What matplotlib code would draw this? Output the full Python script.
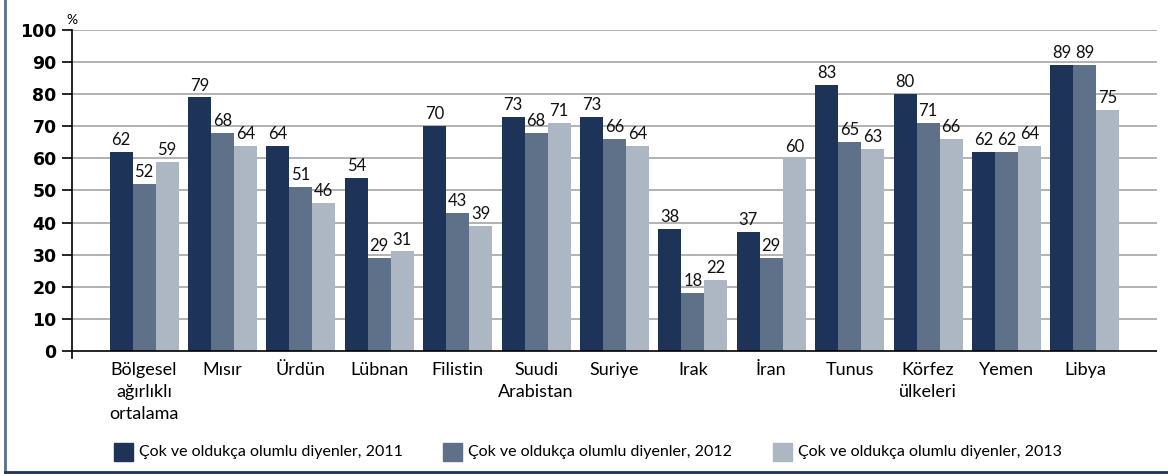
import matplotlib
matplotlib.use("Agg")
import matplotlib.pyplot as plt
import numpy as np
from matplotlib.patches import Rectangle
from matplotlib.lines import Line2D

categories = ["Bölgesel\nağırlıklı\nortalama", "Mısır", "Ürdün", "Lübnan", "Filistin",
              "Suudi\nArabistan", "Suriye", "Irak", "İran", "Tunus", "Körfez\nülkeleri",
              "Yemen", "Libya"]
v2011 = [62, 79, 64, 54, 70, 73, 73, 38, 37, 83, 80, 62, 89]
v2012 = [52, 68, 51, 29, 43, 68, 66, 18, 29, 65, 71, 62, 89]
v2013 = [59, 64, 46, 31, 39, 71, 64, 22, 60, 63, 66, 64, 75]
series_labels = ["Çok ve oldukça olumlu diyenler, 2011",
                 "Çok ve oldukça olumlu diyenler, 2012",
                 "Çok ve oldukça olumlu diyenler, 2013"]
yticks = [0, 10, 20, 30, 40, 50, 60, 70, 80, 90, 100]

colors = ["#1e3358", "#5f7089", "#adb7c4"]
FONT = ["Lato", "DejaVu Sans"]

W, H = 1168, 474
fig = plt.figure(figsize=(W / 100, H / 100), dpi=100)
ax = fig.add_axes([72 / W, 1 - 358 / H, (1157 - 72) / W, (358 - 30) / H])

x = np.arange(len(categories))
bw = 0.293
for k, (vals, c) in enumerate(zip([v2011, v2012, v2013], colors)):
    pos = x + (k - 1) * bw
    ax.bar(pos, vals, width=bw, color=c, zorder=3)
    for px, v in zip(pos, vals):
        ax.text(px, v + 1.2, str(v), ha="center", va="bottom", fontsize=12,
                family=FONT, color="#111111", zorder=4)

ax.set_xlim(-0.92, 12.92)
ax.set_ylim(-2.2, 100)
ax.set_yticks(yticks)
ax.set_yticklabels([str(t) for t in yticks], fontsize=12.5, fontweight="bold",
                   family=["DejaVu Sans"])
for t in yticks[1:]:
    ax.axhline(t, color="#a6a6a6", lw=1.2, zorder=1)
ax.axhline(0, color="black", lw=1.2, zorder=5)
ax.tick_params(axis="y", length=7, width=1.2, pad=4, direction="out")
ax.tick_params(axis="x", length=0, pad=3)
ax.set_xticks(x)
ax.set_xticklabels(categories, fontsize=13, family=FONT, linespacing=1.45)
for s in ["top", "right", "bottom"]:
    ax.spines[s].set_visible(False)
ax.spines["left"].set_linewidth(1.2)
ax.spines["left"].set_bounds(-2.2, 100)

fig.text(66 / W, 1 - 20 / H, "%", fontsize=10, family=FONT, ha="left", va="center")

# legend
leg_x = [114, 443, 773]
for lx, c, lab in zip(leg_x, colors, series_labels):
    fig.patches.append(Rectangle((lx / W, 1 - 461 / H), 19 / W, 18 / H,
                                 transform=fig.transFigure, color=c, figure=fig))
    fig.text((lx + 25) / W, 1 - 452 / H, lab, fontsize=11.5, family=FONT,
             ha="left", va="center")

# frame
fig.lines.append(Line2D([5 / W, 5 / W], [1 - 472 / H, 1], transform=fig.transFigure,
                        color="#5a6b8c", lw=2))
fig.lines.append(Line2D([5 / W, 1], [1 - 472 / H, 1 - 472 / H], transform=fig.transFigure,
                        color="#1e3358", lw=2))

fig.savefig("out.png", dpi=100)
